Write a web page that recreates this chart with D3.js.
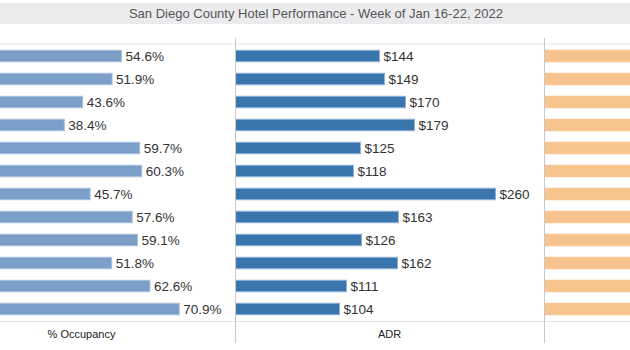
<!DOCTYPE html>
<html>
<head>
<meta charset="utf-8">
<script src="https://cdn.jsdelivr.net/npm/d3@7"></script>
<style>
  body { margin: 0; background: #fff; }
  svg { display: block; font-family: 'Liberation Sans', Arial, sans-serif; }
</style>
</head>
<body>
<svg class="svg"></svg>
<script>
// one row per submarket (row names are cut off in the reference)
const rows = ['r1', 'r2', 'r3', 'r4', 'r5', 'r6', 'r7', 'r8', 'r9', 'r10', 'r11', 'r12'];
const occupancy = [54.6, 51.9, 43.6, 38.4, 59.7, 60.3, 45.7, 57.6, 59.1, 51.8, 62.6, 70.9];
const adr = [144, 149, 170, 179, 125, 118, 260, 163, 126, 162, 111, 104];
// third panel is clipped at the right edge, only the bar starts show
const revpar = [79, 77, 74, 69, 75, 71, 119, 94, 75, 84, 69, 74];

const title = 'San Diego County Hotel Performance - Week of Jan 16-22, 2022';
const panelLabels = ['% Occupancy', 'ADR'];

function drawChart () {
    const width = 630;
    const height = 350;
    const top = 44.5;
    const bottom = 320.5;

    const svg = d3.select('.svg')
        .attr('width', width)
        .attr('height', height);

    /* TITLE BAND */
    svg.append('rect')
        .attr('x', 0)
        .attr('y', 3)
        .attr('width', width)
        .attr('height', 21)
        .attr('fill', '#ebebee');

    svg.append('text')
        .attr('x', 316)
        .attr('y', 18)
        .attr('text-anchor', 'middle')
        .style('font-size', '13px')
        .attr('fill', '#555')
        .text(title);

    const yScale = d3.scaleBand()
        .domain(rows)
        .range([top, bottom])
        .paddingInner(0.5)
        .paddingOuter(0.25);

    /* PANELS: left edge, right edge, max value */
    const panels = [
        { values: occupancy, x0: -72, x1: 235, max: 86.8, fill: '#7b9fc8', stroke: '#a9c1dd', fmt: d => d.toFixed(1) + '%' },
        { values: adr, x0: 235, x1: 544, max: 309, fill: '#3a75ae', stroke: '#8fb3d8', fmt: d => '$' + d },
        { values: revpar, x0: 544, x1: 852, max: 120, fill: '#f7c48d', stroke: '#f7c48d', fmt: null }
    ];

    // grid lines
    svg.append('line')
        .attr('x1', 0).attr('x2', width)
        .attr('y1', 44).attr('y2', 44)
        .attr('stroke', '#e3e3e3');
    svg.append('line')
        .attr('x1', 0).attr('x2', width)
        .attr('y1', 321.5).attr('y2', 321.5)
        .attr('stroke', '#e3e3e3');

    panels.forEach((p, i) => {
        const xScale = d3.scaleLinear()
            .domain([0, p.max])
            .range([p.x0, p.x1]);

        const g = svg.append('g');

        g.selectAll('rect')
            .data(p.values).enter()
            .append('rect')
            .attr('x', xScale(0) + 0.5)
            .attr('y', (d, j) => yScale(rows[j]))
            .attr('width', d => xScale(d) - xScale(0))
            .attr('height', yScale.bandwidth())
            .attr('fill', p.fill)
            .attr('stroke', p.stroke)
            .attr('stroke-width', 1);

        if (p.fmt) {
            g.selectAll('text.val')
                .data(p.values).enter()
                .append('text')
                .attr('class', 'val')
                .attr('x', d => xScale(d) + 4.5)
                .attr('y', (d, j) => yScale(rows[j]) + yScale.bandwidth() / 2)
                .attr('dy', '0.36em')
                .style('font-size', '13.5px')
                .attr('fill', '#333')
                .text(p.fmt);
        }

        if (panelLabels[i]) {
            svg.append('text')
                .attr('x', (p.x0 + p.x1) / 2)
                .attr('y', 338)
                .attr('text-anchor', 'middle')
                .style('font-size', '11px')
                .attr('fill', '#222')
                .text(panelLabels[i]);
        }

        if (i > 0) {
            svg.append('line')
                .attr('x1', p.x0 + 0.5).attr('x2', p.x0 + 0.5)
                .attr('y1', 38).attr('y2', 343)
                .attr('stroke', '#c8c8c8');
        }
    });
}

document.addEventListener('DOMContentLoaded', drawChart);
</script>
</body>
</html>
